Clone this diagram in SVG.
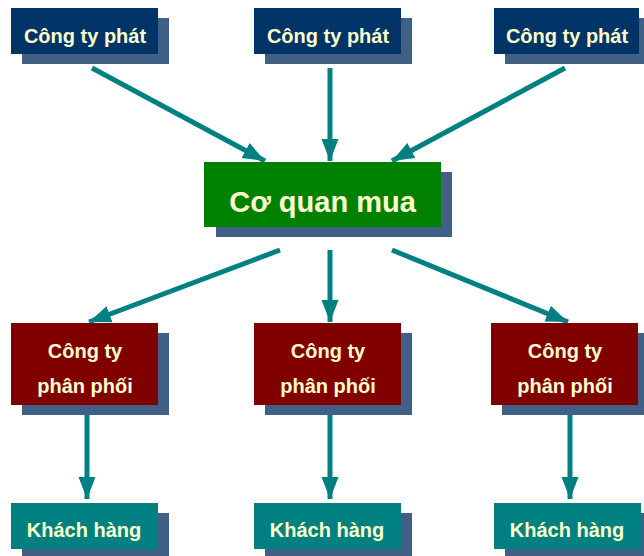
<svg xmlns="http://www.w3.org/2000/svg" width="644" height="556" viewBox="0 0 644 556">
<style>
.sh{fill:#406085}
.top{fill:#003366}
.ctr{fill:#008000}
.mid{fill:#800000}
.bot{fill:#008080}
text{font-family:"Liberation Sans",Arial,sans-serif;font-weight:bold;fill:#ffffcc;text-anchor:middle}
.t19{font-size:20px}
.t28{font-size:29px}
.conn line{stroke:#008080;stroke-width:5;marker-end:url(#ah)}
</style>
<defs>
<marker id="ah" markerUnits="userSpaceOnUse" markerWidth="24" markerHeight="18" refX="22" refY="8.5" orient="auto">
<path d="M0,0 L22,8.5 L0,17 z" fill="#008080"/>
</marker>
</defs>
<rect width="644" height="556" fill="#ffffff"/>
<g class="conn">
<line x1="92" y1="68" x2="265" y2="161"/>
<line x1="330" y1="68" x2="330" y2="161"/>
<line x1="565" y1="68" x2="392" y2="161"/>
<line x1="280" y1="250" x2="89" y2="322"/>
<line x1="330" y1="250" x2="330" y2="322"/>
<line x1="392" y1="250" x2="568" y2="322"/>
<line x1="87" y1="405" x2="87" y2="499"/>
<line x1="330" y1="405" x2="330" y2="499"/>
<line x1="570" y1="405" x2="570" y2="499"/>
</g>
<g id="phat1"><rect class="sh" x="22" y="18" width="147" height="46"/><rect class="top" x="11" y="8" width="147" height="46"/><text class="t19" x="85" y="43">Công ty phát</text></g>
<g id="phat2"><rect class="sh" x="265" y="18" width="147" height="46"/><rect class="top" x="254" y="8" width="147" height="46"/><text class="t19" x="328" y="43">Công ty phát</text></g>
<g id="phat3"><rect class="sh" x="505" y="18" width="147" height="46"/><rect class="top" x="494" y="8" width="145" height="46"/><text class="t19" x="567" y="43">Công ty phát</text></g>
<g id="coquan"><rect class="sh" x="216" y="172" width="236" height="65"/><rect class="ctr" x="204" y="162" width="237" height="65"/><text class="t28" x="322.5" y="212">Cơ quan mua</text></g>
<g id="pp1"><rect class="sh" x="22" y="333" width="147" height="82"/><rect class="mid" x="11" y="323" width="147" height="82"/><text class="t19" x="85" y="358">Công ty</text><text class="t19" x="85" y="393">phân phối</text></g>
<g id="pp2"><rect class="sh" x="265" y="333" width="147" height="82"/><rect class="mid" x="254" y="323" width="147" height="82"/><text class="t19" x="328" y="358">Công ty</text><text class="t19" x="328" y="393">phân phối</text></g>
<g id="pp3"><rect class="sh" x="502" y="333" width="147" height="82"/><rect class="mid" x="491" y="323" width="147" height="82"/><text class="t19" x="565" y="358">Công ty</text><text class="t19" x="565" y="393">phân phối</text></g>
<g id="kh1"><rect class="sh" x="22" y="513" width="147" height="46"/><rect class="bot" x="11" y="503" width="147" height="46"/><text class="t19" x="84" y="537">Khách hàng</text></g>
<g id="kh2"><rect class="sh" x="265" y="513" width="147" height="46"/><rect class="bot" x="254" y="503" width="147" height="46"/><text class="t19" x="327" y="537">Khách hàng</text></g>
<g id="kh3"><rect class="sh" x="505" y="513" width="147" height="46"/><rect class="bot" x="494" y="503" width="147" height="46"/><text class="t19" x="567" y="537">Khách hàng</text></g>
</svg>
